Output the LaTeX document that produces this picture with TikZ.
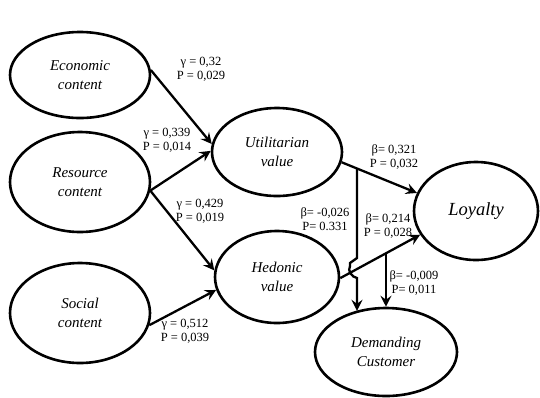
\documentclass[tikz,border=0pt]{standalone}
\usepackage{fontspec}
\setmainfont{Liberation Serif}
\usetikzlibrary{arrows.meta,shapes.geometric}
\begin{document}
\begin{tikzpicture}[x=1pt,y=-1pt,
  ell/.style={ellipse,draw,line width=2.6pt,inner sep=0pt,align=center,font=\fontsize{15}{19}\selectfont\itshape},
  lab/.style={align=center,inner sep=0pt,font=\fontsize{12.5}{14}\selectfont},
  arr/.style={line width=2.3pt,-{Stealth[length=11pt,width=11pt,inset=4pt]}}]
\useasboundingbox (0,0) rectangle (540,397);
\node[ell,minimum width=140pt,minimum height=86pt] (econ) at (80,75) {Economic\\content};
\node[ell,minimum width=140pt,minimum height=100pt] (res) at (80,182) {Resource\\content};
\node[ell,minimum width=140pt,minimum height=100pt] (soc) at (80,313) {Social\\content};
\node[ell,minimum width=130pt,minimum height=88pt] (util) at (277,152) {Utilitarian\\value};
\node[ell,minimum width=124pt,minimum height=92pt] (hed) at (277,277) {Hedonic\\value};
\node[ell,minimum width=124pt,minimum height=98pt,font=\fontsize{18.5}{22}\selectfont\itshape] (loy) at (476,211) {Loyalty};
\node[ell,minimum width=142pt,minimum height=88pt] (dem) at (386,352) {Demanding\\Customer};

\draw[arr] (econ.4) -- (util.173);
\draw[arr] (res.-7) -- (util.179);
\draw[arr] (res.-7) -- (hed.174);
\draw[arr] (soc.-10) -- (hed.-168);
\draw[arr] (util.-9) -- (loy.163);
\draw[arr] (hed.-1) -- (loy.-157);

\path (util.-9) -- (loy.163) coordinate[pos=0.2045] (uj);
\path (hed.-1) -- (loy.-157) coordinate[pos=0.572] (hj);
\draw[arr] (uj) -- ++(0,89.5) -- ++(-7,5) -- ++(0,3) to[out=-120,in=170] ++(7,12) -- (uj |- dem.126);
\draw[arr] (hj) -- (hj |- dem.north);

\node[lab] (l1) at (201,69) {γ = 0,32\\P = 0,029};
\node[lab] (l2) at (167,140) {γ = 0,339\\P = 0,014};
\node[lab] (l3) at (200,211) {γ = 0,429\\P = 0,019};
\node[lab] (l4) at (185,331) {γ = 0,512\\P = 0,039};
\node[lab] (l5) at (394,157) {β= 0,321\\P = 0,032};
\node[lab] (l6) at (325,219) {β= -0,026\\P= 0.331};
\node[lab] (l7) at (388,226) {β= 0,214\\P = 0,028};
\node[lab] (l8) at (414,283) {β= -0,009\\P= 0,011};
\end{tikzpicture}
\end{document}
